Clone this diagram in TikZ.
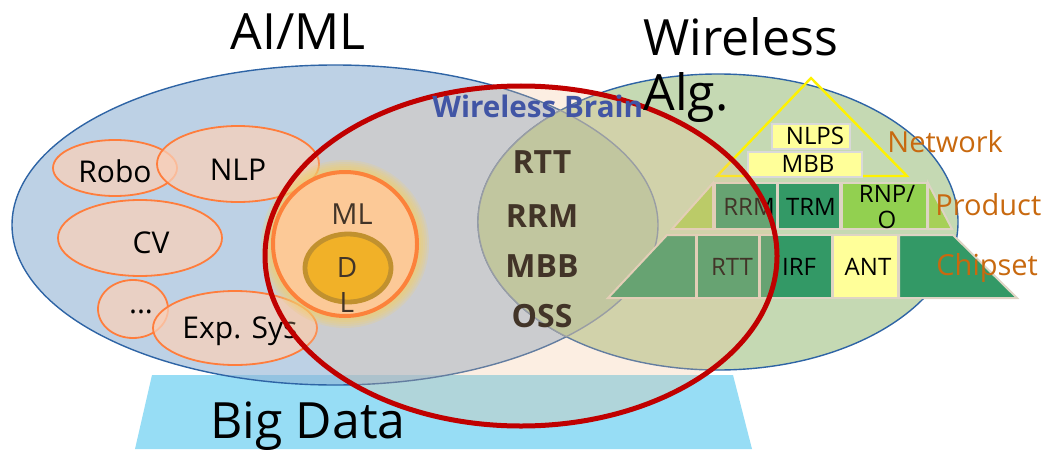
\documentclass[tikz,border=0pt]{standalone}
\usepackage{fontspec}
\setmainfont{Open Sans}
\usepackage{tikz}
\definecolor{aiBlue}{RGB}{145,178,212}
\definecolor{edgeBlue}{RGB}{46,100,165}
\definecolor{faintBlue}{RGB}{120,145,170}
\definecolor{algGreen}{RGB}{197,217,179}
\definecolor{mixGreen}{RGB}{175,200,164}
\definecolor{bigBlue}{RGB}{151,221,245}
\definecolor{subFill}{RGB}{249,208,185}
\definecolor{subEdge}{RGB}{255,125,60}
\definecolor{brainRed}{RGB}{192,0,0}
\definecolor{brainTint}{RGB}{244,193,148}
\definecolor{brainBlue}{RGB}{65,85,165}
\definecolor{mlFill}{RGB}{255,204,153}
\definecolor{mlEdge}{RGB}{255,107,27}
\definecolor{dlFill}{RGB}{240,172,0}
\definecolor{dlEdge}{RGB}{175,128,10}
\definecolor{glowYellow}{RGB}{240,212,90}
\definecolor{cellGreen}{RGB}{51,153,102}
\definecolor{cellLime}{RGB}{146,208,80}
\definecolor{cellPale}{RGB}{167,208,88}
\definecolor{cellYellow}{RGB}{255,255,153}
\definecolor{cellEdge}{RGB}{222,212,196}
\definecolor{layerOrange}{RGB}{200,105,15}

\begin{document}
\begin{tikzpicture}[x=0.5pt, y=-0.5pt,
    title/.style={font=\fontsize{25}{27.5}\selectfont, inner sep=0pt},
    subtext/.style={font=\fontsize{15}{17}\selectfont, inner sep=0pt},
    layertext/.style={font=\fontsize{14.5}{17}\selectfont, text=layerOrange, inner sep=0pt, anchor=base west},
    celltext/.style={font=\fontsize{12}{13}\selectfont, inner sep=0pt, anchor=base},
    brainitem/.style={font=\bfseries\fontsize{16}{18}\selectfont, inner sep=0pt, anchor=base},
    subarea/.style={fill=subFill, fill opacity=0.75, draw=subEdge, line width=0.9pt},
    cell/.style={draw=cellEdge, line width=1pt},
    tagbox/.style={fill=cellYellow, draw=black!15, line width=0.8pt}]
  \useasboundingbox (0,0) rectangle (1042,449);

  % big data base
  \fill[bigBlue] (152,375) -- (733,375) -- (752,449) -- (135,449) -- cycle;

  % AI/ML and wireless areas
  \fill[aiBlue, fill opacity=0.6] (335,225) ellipse[x radius=323, y radius=160];
  \draw[edgeBlue, line width=0.7pt] (335,225) ellipse[x radius=323, y radius=160];
  \fill[algGreen] (718,222) ellipse[x radius=240, y radius=148];
  \draw[edgeBlue, line width=0.7pt] (718,222) ellipse[x radius=240, y radius=148];
  \begin{scope}
    \clip (335,225) ellipse[x radius=323, y radius=160];
    \fill[mixGreen] (718,222) ellipse[x radius=240, y radius=148];
    \draw[faintBlue, line width=0.7pt] (718,222) ellipse[x radius=240, y radius=148];
  \end{scope}
  \begin{scope}
    \clip (718,222) ellipse[x radius=240, y radius=148];
    \draw[faintBlue, line width=0.7pt] (335,225) ellipse[x radius=323, y radius=160];
  \end{scope}

  % AI/ML sub fields
  \draw[subarea] (115,168) ellipse[x radius=62, y radius=28];
  \draw[subarea] (238,164) ellipse[x radius=81, y radius=38];
  \draw[subarea] (140,238) ellipse[x radius=82, y radius=38];
  \draw[subarea] (133,309) ellipse[x radius=35, y radius=29];
  \draw[subarea] (235,328) ellipse[x radius=82, y radius=37];
  \node[subtext, anchor=base] (robo) at (115,182) {Robo};
  \node[subtext, anchor=base] (nlp) at (238,180) {NLP};
  \node[subtext, anchor=base] (cv) at (151,253) {CV};
  \node[subtext, anchor=base] (more) at (141,313) {...};
  \node[subtext, anchor=base] (expsys) at (240,338) {Exp. Sys};

  % pyramid
  \draw[yellow, line width=1.2pt] (811,78) -- (907,176) -- (717,176) -- cycle;
  \draw[tagbox] (772,124) rectangle (850,149);
  \draw[tagbox] (748,152) rectangle (862,177);
  \node[celltext] (nlps) at (815,144) {NLPS};
  \node[celltext] (mbbtag) at (808,172) {MBB};

  \fill[cellPale, cell] (672,229) -- (713,183) -- (713,229) -- cycle;
  \fill[cellGreen, cell] (715,183) rectangle (777,229);
  \fill[cellGreen, cell] (778,183) rectangle (840,229);
  \fill[cellLime, cell] (842,183) rectangle (927,229);
  \fill[cellPale, cell] (928,183) -- (952,229) -- (928,229) -- cycle;
  \node[celltext] (rrmcell) at (749,215) {RRM};
  \node[celltext] (trm) at (811,215) {TRM};
  \node[celltext, align=center, anchor=north, font=\fontsize{12}{13}\selectfont] (rnpo) at (887,185) {RNP/\\O};

  \fill[cellGreen, cell] (608,298) -- (667,235) -- (696,235) -- (696,298) -- cycle;
  \fill[cellGreen, cell] (697,235) rectangle (759,298);
  \fill[cellGreen, cell] (760,235) rectangle (832,298);
  \fill[cellYellow, cell] (833,235) rectangle (898,298);
  \fill[cellGreen, cell] (899,235) -- (953,235) -- (1017,298) -- (899,298) -- cycle;
  \node[celltext] (rttcell) at (732,275) {RTT};
  \node[celltext] (irf) at (799,275) {IRF};
  \node[celltext] (ant) at (868,275) {ANT};

  % ML with DL inside
  \foreach \r in {84,82,...,74}
    \fill[glowYellow, opacity=0.2] (345,244) circle[radius=\r];
  \draw[mlEdge, line width=2pt, fill=mlFill] (345,244) circle[radius=72];
  \draw[dlEdge, line width=2.4pt, fill=dlFill] (348,268) ellipse[x radius=43, y radius=34];
  \node[font=\fontsize{14.5}{17}\selectfont, inner sep=0pt, anchor=base] (ml) at (352,224) {ML};
  \node[font=\fontsize{14}{17.5}\selectfont, inner sep=0pt, align=center, anchor=north] (dl) at (347,257) {D\\L};

  % wireless brain items
  \node[brainitem] (rtt) at (542,173) {RTT};
  \node[brainitem] (rrm) at (542,227) {RRM};
  \node[brainitem] (mbb) at (542,277) {MBB};
  \node[brainitem] (oss) at (542,327) {OSS};

  % wireless brain
  \fill[brainTint, fill opacity=0.27] (521,256) ellipse[x radius=256, y radius=170];
  \draw[brainRed, line width=2.5pt] (521,256) ellipse[x radius=256, y radius=170];
  \node[font=\bfseries\fontsize{14.8}{18}\selectfont, text=brainBlue, inner sep=0pt, anchor=base west] (brain) at (432,118) {Wireless Brain};

  % titles
  \node[title, anchor=base] (aiml) at (298,50) {AI/ML};
  \node[title, align=left, anchor=north west] (walg) at (643,17) {Wireless\\Alg.};
  \node[title, anchor=base] (bigdata) at (308,438) {Big Data};
  \node[layertext] (network) at (887,152) {Network};
  \node[layertext] (product) at (935,215) {Product};
  \node[layertext] (chipset) at (936,275) {Chipset};
\end{tikzpicture}
\end{document}
